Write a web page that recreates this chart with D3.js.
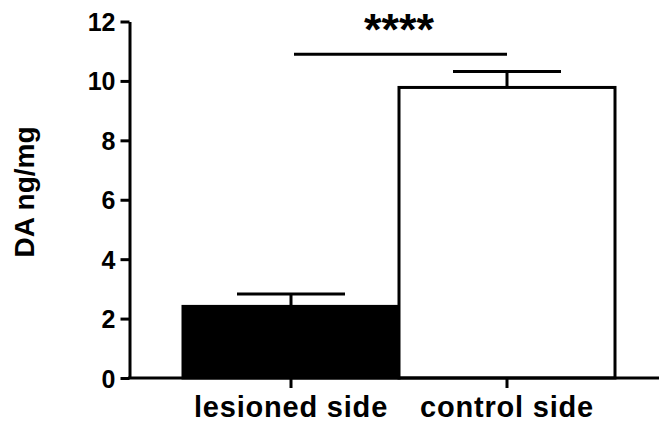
<!DOCTYPE html>
<html><head><meta charset="utf-8">
<script src="https://cdn.jsdelivr.net/npm/d3@7"></script>
<style>body{margin:0;background:#fff}svg{display:block}text{font-family:"Liberation Sans",Arial,sans-serif;font-weight:bold;fill:#000}</style>
</head><body>
<script>
const categories = ["lesioned side", "control side"];
const means = [2.41, 9.78];
const sems = [0.42, 0.54];
const fills = ["#000000", "#ffffff"];
const yTicks = [0, 2, 4, 6, 8, 10, 12];
const sigLabel = "****";
const sigY = 10.9;

const W = 659, H = 427;
const svg = d3.select("body").append("svg").attr("width", W).attr("height", H);

const y = d3.scaleLinear().domain([0, 12]).range([378, 21.5]);
const x = d3.scaleBand().domain(categories).range([183, 615]).padding(0);

// bars
svg.selectAll("rect.bar").data(categories).join("rect")
  .attr("x", d => x(d)).attr("y", (d,i) => y(means[i]))
  .attr("width", x.bandwidth()).attr("height", (d,i) => y(0) - y(means[i]))
  .attr("fill", (d,i) => fills[i]).attr("stroke", "#000").attr("stroke-width", 3);

// error bars
const capW = 54;
categories.forEach((c, i) => {
  const cx = x(c) + x.bandwidth()/2;
  svg.append("line").attr("x1", cx).attr("x2", cx).attr("y1", y(means[i])).attr("y2", y(means[i]+sems[i]))
    .attr("stroke", "#000").attr("stroke-width", 3);
  svg.append("line").attr("x1", cx-capW).attr("x2", cx+capW).attr("y1", y(means[i]+sems[i])).attr("y2", y(means[i]+sems[i]))
    .attr("stroke", "#000").attr("stroke-width", 3);
});

// y axis
const yAxis = svg.append("g").attr("transform", "translate(129.5,0)")
  .call(d3.axisLeft(y).tickValues(yTicks).tickSize(9).tickPadding(5).tickSizeOuter(0));
yAxis.select(".domain").attr("stroke-width", 3);
yAxis.selectAll(".tick line").attr("stroke-width", 3);
yAxis.selectAll("text").style("font-size", "25px").attr("dy", "0.36em");

// x axis
const xAxis = svg.append("g").attr("transform", "translate(0,378)")
  .call(d3.axisBottom(x).tickSize(10).tickPadding(8).tickSizeOuter(0));
xAxis.select(".domain").remove();
xAxis.append("line").attr("x1", 128).attr("x2", 659).attr("stroke", "#000").attr("stroke-width", 3);
xAxis.selectAll(".tick line").attr("stroke-width", 3);
xAxis.selectAll("text").style("font-size", "29px").style("letter-spacing", "0.8px").attr("dy", "0.71em");

// y label
svg.append("text").attr("transform", "translate(33.5,192) rotate(-90)")
  .attr("text-anchor", "middle").style("font-size", "28px").text("DA ng/mg");

// significance
const c0 = x(categories[0]) + x.bandwidth()/2, c1 = x(categories[1]) + x.bandwidth()/2;
svg.append("line").attr("x1", c0+3).attr("x2", c1).attr("y1", y(sigY)).attr("y2", y(sigY))
  .attr("stroke", "#000").attr("stroke-width", 3);
svg.append("text").attr("x", (c0+c1)/2).attr("y", 45).attr("text-anchor", "middle")
  .style("font-size", "45px").text(sigLabel);
</script>
</body></html>
